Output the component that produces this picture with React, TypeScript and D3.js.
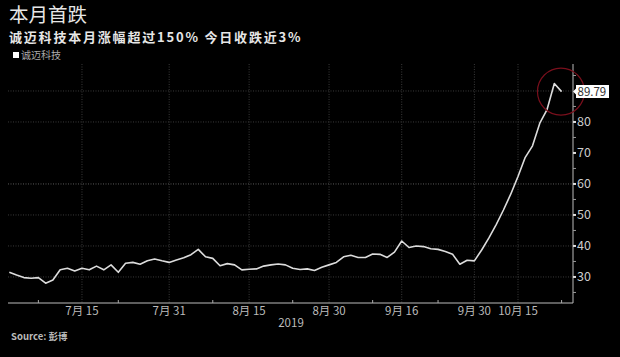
import React from "react";
import * as d3 from "d3";

const title = "本月首跌";
const subtitle = "诚迈科技本月涨幅超过150% 今日收跌近3%";
const seriesName = "诚迈科技";
const source = "Source: 彭博";
const yearLabel = "2019";

// trading-day index values (2019-07-01 .. 2019-10-23)
const prices: number[] = [
  31.5, 30.6, 29.8, 29.6, 29.8, 28.0, 29.0, 32.3, 32.8, 31.9,
  32.8, 32.3, 33.5, 32.3, 33.9, 31.5, 34.4, 34.7, 34.1, 35.2,
  35.8, 35.2, 34.7, 35.5, 36.2, 37.2, 38.9, 36.5, 36.0, 33.6,
  34.3, 33.9, 32.3, 32.5, 32.6, 33.5, 33.9, 34.2, 33.9, 32.8,
  32.4, 32.6, 32.1, 33.1, 33.9, 34.7, 36.5, 37.0, 36.3, 36.3,
  37.4, 37.3, 36.3, 38.0, 41.6, 39.5, 40.0, 39.8, 39.1, 38.9,
  38.2, 37.3, 34.1, 35.4, 35.2, 38.7, 42.6, 46.9, 51.6, 56.7,
  62.4, 68.6, 72.3, 79.6, 84.0, 92.4, 89.79,
];
const lastValue = "89.79";

const xTickIdx = [10, 22, 33, 44, 54, 64, 70];
const xTickLabels = ["7月 15", "7月 31", "8月 15", "8月 30", "9月 16", "9月 30", "10月 15"];
const xMinorIdx = [4, 15, 28, 39, 50, 59, 76];
const yTicks = [30, 40, 50, 60, 70, 80];
const yGrid = [30, 40, 50, 60, 80, 90];
const yMinor = [25, 35, 45, 55, 65, 75, 85, 95];

export default function App() {
  const W = 620, H = 357;
  const left = 8, right = 573, top = 64, bottom = 303;
  const x = d3.scaleLinear().domain([-0.18, 77.57]).range([left, right]);
  const y = d3.scaleLinear().domain([21.6, 98.7]).range([bottom, top]);
  const line = d3.line<number>().x((_, i) => x(i)).y((d) => y(d));
  const lastI = prices.length - 1;
  const peakI = prices.indexOf(d3.max(prices) as number);
  const cx = (x(peakI) + x(lastI)) / 2 + 3;
  const cy = y(prices[lastI]);
  const ly = y(prices[lastI]);
  const font = "'Noto Sans CJK SC', 'Noto Sans', sans-serif";

  return (
    <svg width={W} height={H} style={{ position: "absolute", left: 0, top: 0, background: "#000", display: "block" }} fontFamily={font}>
      <rect x={0} y={0} width={W} height={H} fill="#000" />
      <text x={9} y={22} fill="#e6e6e6" fontSize={19.5}>{title}</text>
      <text x={9} y={42} fill="#e6e6e6" fontSize={13} fontWeight="bold" letterSpacing={1.8}>{subtitle}</text>
      <rect x={13} y={52} width={6} height={6} fill="#fff" />
      <text x={21} y={58.5} fill="#aaa" fontSize={10}>{seriesName}</text>

      {/* grid */}
      {yGrid.map((v) => (
        <line key={"hg" + v} x1={left} x2={right} y1={y(v)} y2={y(v)}
          stroke={v === 60 ? "#5a5a5a" : "#3a3a3a"} strokeDasharray="1,1.5" strokeWidth={1} />
      ))}
      {xTickIdx.map((i) => (
        <line key={"vg" + i} x1={x(i)} x2={x(i)} y1={top} y2={bottom}
          stroke="#3a3a3a" strokeDasharray="1,1.5" strokeWidth={1} />
      ))}

      {/* axes */}
      <line x1={left} x2={right} y1={bottom} y2={bottom} stroke="#bbb" strokeWidth={1} />
      <line x1={right} x2={right} y1={top} y2={bottom} stroke="#bbb" strokeWidth={1} />
      {xMinorIdx.map((i) => (
        <line key={"xm" + i} x1={x(i)} x2={x(i)} y1={bottom} y2={bottom - 3} stroke="#aaa" />
      ))}
      {xTickIdx.map((i, k) => (
        <text key={"xl" + i} x={x(i)} y={315} fill="#bbb" fontSize={11.5} textAnchor="middle">{xTickLabels[k]}</text>
      ))}
      <text x={291} y={327} fill="#bbb" fontSize={11.5} textAnchor="middle">{yearLabel}</text>

      {yMinor.map((v) => (
        <line key={"ym" + v} x1={right} x2={right + 3} y1={y(v)} y2={y(v)} stroke="#999" />
      ))}
      {yTicks.map((v) => (
        <g key={"yt" + v}>
          <line x1={right} x2={right + 3} y1={y(v)} y2={y(v)} stroke="#ddd" strokeWidth={2} />
          <text x={577} y={y(v) + 4.5} fill="#ccc" fontSize={12.5}>{v}</text>
        </g>
      ))}

      {/* series */}
      <path d={line(prices) || ""} fill="none" stroke="#dcdcdc" strokeWidth={1.6} strokeLinejoin="round" />

      {/* highlight circle */}
      <circle cx={cx} cy={cy} r={23.5} fill="none" stroke="#7a0f1c" strokeWidth={1.2} />

      {/* last value label */}
      <path d={`M${right},${ly} L${right + 3},${ly - 3} L${right + 3},${ly - 6.5} L${609},${ly - 6.5} L${609},${ly + 6.5} L${right + 3},${ly + 6.5} L${right + 3},${ly + 3} Z`} fill="#fff" />
      <text x={577.5} y={ly + 4.3} fill="#333" fontSize={11.5}>{lastValue}</text>

      <text x={11} y={340} fill="#bbb" fontSize={9.5} fontWeight="bold">{source}</text>
    </svg>
  );
}
